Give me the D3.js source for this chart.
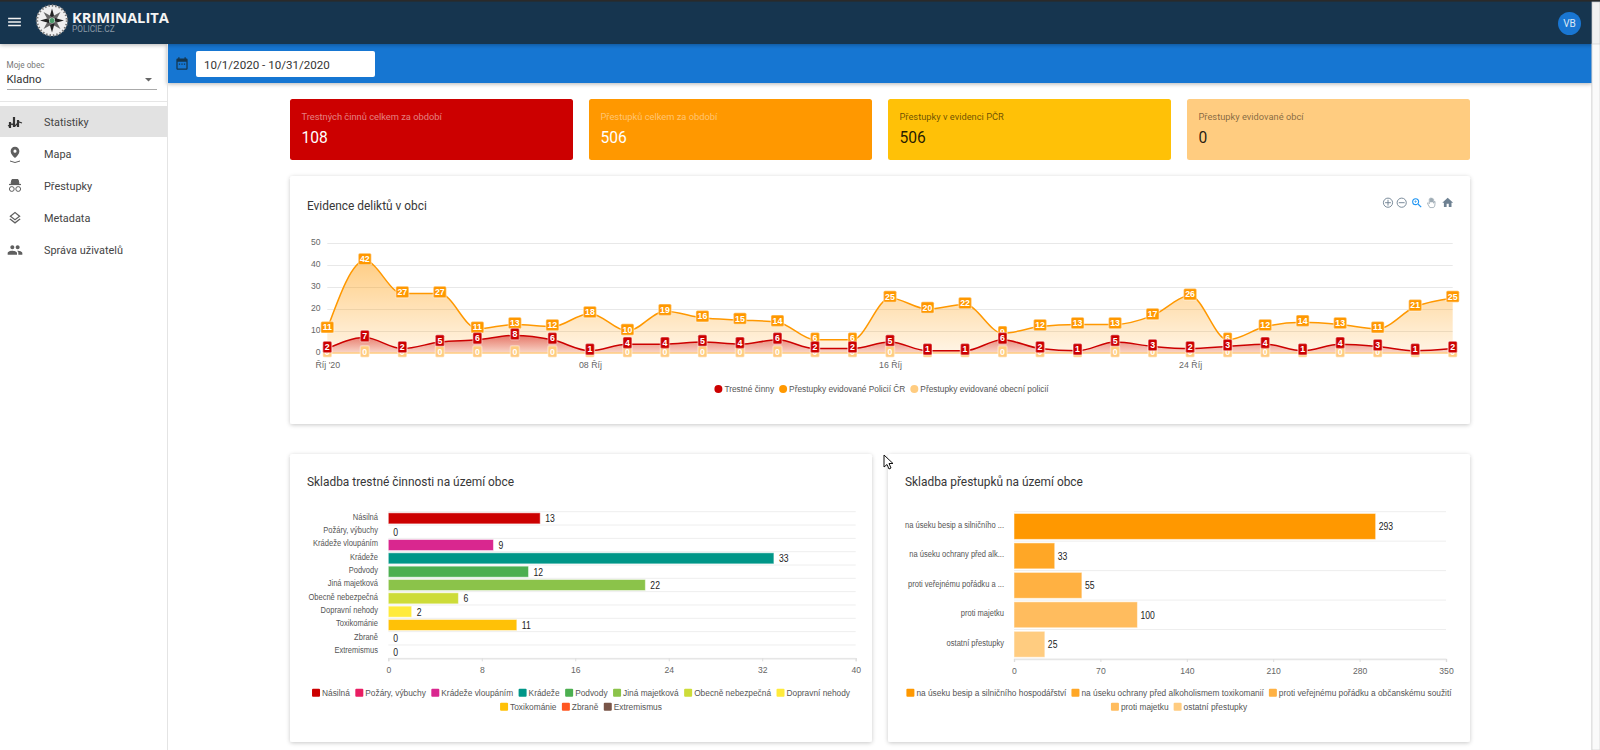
<!DOCTYPE html>
<html lang="cs"><head><meta charset="utf-8">
<script src="https://cdn.jsdelivr.net/npm/d3@7/dist/d3.min.js"></script>
<style>
html,body{margin:0;padding:0;width:1600px;height:750px;overflow:hidden;background:#fff;font-family:Roboto,sans-serif}
svg{position:absolute;left:0;top:0}
</style></head><body><svg id="page" width="1600" height="750"></svg>
<script>
// ---------- data ----------
const days = d3.range(1, 32);
const crimes = [2,7,2,5,6,8,6,1,4,4,5,4,6,2,2,5,1,1,6,2,1,5,3,2,3,4,1,4,3,1,2];
const offencesPolice = [11,42,27,27,11,13,12,18,10,19,16,15,14,6,6,25,20,22,9,12,13,13,17,26,6,12,14,13,11,21,25];
const offencesCity = [0,0,0,0,0,0,0,0,0,0,0,0,0,0,0,0,0,0,0,0,0,0,0,0,0,0,0,0,0,0,0];
const yTicks = [0,10,20,30,40,50];
const xTickDays = [1,8,16,24];
const xTickLabels = ["Říj '20","08 Říj","16 Říj","24 Říj"];
const lineNames = ["Trestné činny","Přestupky evidované Policií ČR","Přestupky evidované obecní policií"];
const lineColors = ["#cc0000","#ff9800","#ffcc80"];

const crimeCats = ["Násilná","Požáry, výbuchy","Krádeže vloupáním","Krádeže","Podvody","Jiná majetková","Obecně nebezpečná","Dopravní nehody","Toxikománie","Zbraně","Extremismus"];
const crimeVals = [13,0,9,33,12,22,6,2,11,0,0];
const crimeColors = ["#cc0000","#e91e63","#d9278f","#009688","#4caf50","#8bc34a","#cddc39","#ffeb3b","#ffc107","#ff5722","#795548"];
const crimeTicks = [0,8,16,24,32,40];

const offCats = ["na úseku besip a silničního hospodářství","na úseku ochrany před alkoholismem toxikomanií","proti veřejnému pořádku a občanskému soužití","proti majetku","ostatní přestupky"];
const offShort = ["na úseku besip a silničního ...","na úseku ochrany před alk...","proti veřejnému pořádku a ...","proti majetku","ostatní přestupky"];
const offVals = [293,33,55,100,25];
const offColors = ["#ff9800","#ffa726","#ffb142","#ffbc5e","#ffcc80"];
const offTicks = [0,70,140,210,280,350];

const kpiLabels = ["Trestných činnů celkem za období","Přestupků celkem za období","Přestupky v evidenci PČR","Přestupky evidované obcí"];
const kpiValues = ["108","506","506","0"];
const kpiColors = ["#cc0000","#ff9800","#ffc107","#ffcc80"];
const kpiLabelInk = ["rgba(255,255,255,.5)","rgba(255,255,255,.45)","rgba(0,0,0,.6)","rgba(0,0,0,.5)"];
const kpiValueInk = ["#fff","#fff","rgba(0,0,0,.87)","rgba(0,0,0,.87)"];
const navItems = ["Statistiky","Mapa","Přestupky","Metadata","Správa uživatelů"];

// ---------- helpers ----------
const svg = d3.select("#page");
const ROB = "Roboto,sans-serif", ARI = "'Liberation Sans',Helvetica,Arial,sans-serif";
const defs = svg.append("defs");
const shadow = (id, dy, blur, op) => {
  const f = defs.append("filter").attr("id", id).attr("x","-5%").attr("y","-20%").attr("width","110%").attr("height","140%");
  f.append("feDropShadow").attr("dx",0).attr("dy",dy).attr("stdDeviation",blur).attr("flood-color","#000").attr("flood-opacity",op);
};
shadow("cardS",1,2.2,.22); shadow("barS",1,2,.3);
const txt = (p,x,y,s,size,fill,o={}) => p.append("text").attr("x",x).attr("y",y).attr("dy",".35em")
  .attr("font-family",o.ff||ROB).attr("font-size",size).attr("fill",fill).attr("font-weight",o.w||400)
  .attr("text-anchor",o.a||"start").text(s);
const icon = (p,d,x,y,size,fill,extra) => {
  const g = p.append("g").attr("transform",`translate(${x-size/2},${y-size/2}) scale(${size/24})`);
  const e = g.append("path").attr("d",d).attr("fill",fill);
  if(extra) extra(e); return g;
};
// narrow text horizontally to the reference's tighter set width
const squeeze = (sel,k) => sel.each(function(){
  const n=this.getComputedTextLength();
  d3.select(this).attr("textLength",n*k).attr("lengthAdjust","spacingAndGlyphs");
});

// ---------- shell ----------
svg.append("rect").attr("x",167).attr("y",44).attr("width",1425).attr("height",39).attr("fill","#1976d2").attr("filter","url(#barS)");
svg.append("rect").attr("x",0).attr("y",0).attr("width",1600).attr("height",44).attr("fill","#14364f").attr("filter","url(#barS)");
svg.append("rect").attr("x",0).attr("y",0).attr("width",1600).attr("height",1.6).attr("fill","#2a2a2a");
svg.append("rect").attr("x",1592).attr("y",2).attr("width",8).attr("height",748).attr("fill","#f1f1f1").attr("stroke","#c8c8c8").attr("stroke-width",.7);
svg.append("rect").attr("x",1592).attr("y",44).attr("width",8).attr("height",706).attr("fill","#fafafa").attr("stroke","#d0d0d0").attr("stroke-width",.7);
svg.append("line").attr("x1",167.5).attr("x2",167.5).attr("y1",44).attr("y2",750).attr("stroke","#e4e4e4");

icon(svg,"M3 18h18v-2H3v2zm0-5h18v-2H3v2zm0-7v2h18V6H3z",14.5,22,17,"#f2f2f2");
// logo
const logo = svg.append("g").attr("transform","translate(52,20.5)");
logo.append("circle").attr("r",15.5).attr("fill","#efefef");
logo.append("circle").attr("r",15).attr("fill","none").attr("stroke","#777").attr("stroke-width",2.4).attr("stroke-dasharray","1.5 2");
d3.range(8).forEach(i=>{
  logo.append("path").attr("d","M0 -12 L2.6 -3 L-2.6 -3 Z").attr("fill",i%2?"#666":"#222").attr("transform",`rotate(${i*45})`);
});
logo.append("circle").attr("r",2.6).attr("fill","#4c9a6a");
txt(svg,72,17.5,"KRIMINALITA",14.7,"#f4f4f4",{w:700,ff:"'Open Sans',Roboto,sans-serif"});
txt(svg,72,29.5,"POLICIE.CZ",8.3,"#8b9aa6");
svg.append("circle").attr("cx",1569.5).attr("cy",23.5).attr("r",11.5).attr("fill","#1976d2");
txt(svg,1569.5,23.5,"VB",10,"#dbe9f6",{a:"middle"});

// date bar
icon(svg,"M19 4h-1V2h-2v2H8V2H6v2H5c-1.1 0-2 .9-2 2v14c0 1.1.9 2 2 2h14c1.1 0 2-.9 2-2V6c0-1.1-.9-2-2-2zm0 16H5V9h14v11zM7 12h2v2H7zm4 0h2v2h-2zm4 0h2v2h-2z",182,63.5,15,"#14364f");
svg.append("rect").attr("x",196).attr("y",51).attr("width",179).attr("height",26).attr("rx",2).attr("fill","#fff");
txt(svg,204,64.5,"10/1/2020 - 10/31/2020",11.6,"#333");

// sidebar
txt(svg,6.5,65.5,"Moje obec",8.2,"#777");
txt(svg,6.5,79,"Kladno",11.3,"#333");
svg.append("path").attr("d","M145 78 h7 l-3.5 3.5 z").attr("fill","#666");
svg.append("line").attr("x1",7).attr("x2",157).attr("y1",89.5).attr("y2",89.5).attr("stroke","#aaa");
svg.append("line").attr("x1",0).attr("x2",167).attr("y1",101.5).attr("y2",101.5).attr("stroke","#e6e6e6");
svg.append("rect").attr("x",0).attr("y",106).attr("width",167).attr("height",31).attr("fill","#e2e2e2");
navItems.forEach((s,i)=>txt(svg,44,122+i*32,s,10.9,"#444"));
const ic="#5f5f5f";
// Statistiky icon
const st=svg.append("g").attr("transform","translate(15,122)");
st.append("path").attr("d","M-5 6 L-5 0 M-1 5 L-1 -5 M3 5 L3 -2").attr("stroke","#333").attr("stroke-width",2.2).attr("fill","none");
st.append("path").attr("d","M-7 4 L-3 2 L0 4 L4 0 L7 1").attr("stroke","#333").attr("stroke-width",1.3).attr("fill","none");
icon(svg,"M12 2C8.13 2 5 5.13 5 9c0 4 4 8.5 7 11 3-2.500 7-7 7-11 0-3.870-3.130-7-7-7zm0 9.500a2.500 2.500 0 010-5 2.500 2.500 0 010 5z",15,153,15,ic);
svg.append("path").attr("d","M10 161 q5 3 10 0").attr("fill","none").attr("stroke",ic).attr("stroke-width",1);
// detective
const de=svg.append("g").attr("transform","translate(15,185.500)").attr("stroke",ic).attr("fill","none");
de.append("path").attr("d","M-4 -2 L-3 -6 L3 -6 L4 -2 Z").attr("fill",ic);
de.append("line").attr("x1",-6).attr("x2",6).attr("y1",-1).attr("y2",-1).attr("stroke-width",1.2);
de.append("circle").attr("cx",-3.2).attr("cy",3.500).attr("r",2.400);
de.append("circle").attr("cx",3.200).attr("cy",3.500).attr("r",2.400);
icon(svg,"M11.99 18.54l-7.37-5.73L3 14.07l9 7 9-7-1.630-1.270-7.380 5.740zM12 16l7.360-5.730L21 9l-9-7-9 7 1.630 1.270L12 16zm0-11.460L17.740 9 12 13.460 6.260 9 12 4.540z",15,218,15,ic);
icon(svg,"M16 11c1.660 0 2.990-1.340 2.990-3S17.660 5 16 5c-1.660 0-3 1.340-3 3s1.340 3 3 3zm-8 0c1.660 0 2.990-1.340 2.990-3S9.660 5 8 5C6.340 5 5 6.340 5 8s1.340 3 3 3zm0 2c-2.330 0-7 1.170-7 3.500V19h14v-2.500c0-2.330-4.670-3.500-7-3.500zm8 0c-.29 0-.62.02-.97.05 1.160.840 1.970 1.970 1.970 3.450V19h6v-2.500c0-2.330-4.670-3.500-7-3.500z",15,250,16,ic);

// ---------- KPI cards ----------
const kpiX = d3.scaleBand().domain(d3.range(4)).range([290,1470]).paddingInner(16/299);
const kpi = svg.selectAll("g.kpi").data(kpiLabels).join("g").attr("class","kpi")
  .attr("transform",(d,i)=>`translate(${kpiX(i)},99)`);
kpi.append("rect").attr("width",kpiX.bandwidth()).attr("height",61).attr("rx",2.500).attr("fill",(d,i)=>kpiColors[i]);
kpi.append("text").attr("x",11.5).attr("y",17.500).attr("dy",".35em").attr("font-size",9.300).attr("fill",(d,i)=>kpiLabelInk[i]).text(d=>d);
kpi.append("text").attr("x",11.5).attr("y",39).attr("dy",".35em").attr("font-size",15.600).attr("fill",(d,i)=>kpiValueInk[i]).text((d,i)=>kpiValues[i]);

// ---------- cards ----------
const card=(x,y,w,h,title)=>{
  svg.append("rect").attr("x",x).attr("y",y).attr("width",w).attr("height",h).attr("rx",2.500).attr("fill","#fff").attr("filter","url(#cardS)");
  txt(svg,x+17,y+(title.y||29.500),title.t,11.9,"#373737");
};
card(290,176,1180,248,{t:"Evidence deliktů v obci"});
card(290,454,582,288,{t:"Skladba trestné činnosti na území obce",y:27.500});
card(888,454,582,288,{t:"Skladba přestupků na území obce",y:27.500});

// toolbar
const tb="#6e8192";
[["M12 5v14M5 12h14",1388],["M5 12h14",1401.700]].forEach(([d,x])=>{
  const g=svg.append("g").attr("transform",`translate(${x-5},${202.700-5}) scale(${10/24})`).attr("fill","none").attr("stroke",tb).attr("stroke-width",2.200);
  g.append("circle").attr("cx",12).attr("cy",12).attr("r",11);g.append("path").attr("d",d);
});
icon(svg,"M15.500 14h-.79l-.28-.27A6.471 6.471 0 0016 9.500 6.500 6.500 0 109.500 16c1.610 0 3.090-.59 4.230-1.570l.27.28v.79l5 4.990L20.490 19l-4.990-5zm-6 0C7.010 14 5 11.990 5 9.500S7.010 5 9.500 5 14 7.010 14 9.500 11.990 14 9.500 14z M9 7h1v2h2v1h-2v2H9v-2H7V9h2z",1417,203,13,"#2196f3");
icon(svg,"M8 21 L4 14 Q3 12 5 12 L7 14 V5 Q8 4 9 5 V11 V3.500 Q10 2.500 11 3.500 V11 V4 Q12 3 13 4 V11 V5.500 Q14 4.500 15 5.500 V13 Q16 9 17.500 9.500 Q18 12 17 18 L15 21 Z",1432,202.700,13,"#fff",e=>e.attr("stroke","#9aa7b2").attr("stroke-width",1.500));
icon(svg,"M10 20v-6h4v6h5v-8h3L12 3 2 12h3v8z",1447.700,202.700,13,tb);

// ---------- line / area chart ----------
const X0=327.3,X1=1452.7,Y0=353,Y50=243;
const x = d3.scalePoint().domain(days).range([X0,X1]);
const y = d3.scaleLinear().domain([0,50]).range([Y0,Y50]);
const lc = svg.append("g").attr("font-family",ARI);

const grid = lc.append("g").attr("transform",`translate(${X0},0)`)
  .call(d3.axisLeft(y).tickValues(yTicks.slice(1)).tickSize(-(X1-X0)).tickFormat(""));
grid.select(".domain").remove();
grid.selectAll("line").attr("stroke","#e8e8e8");
const yAx = lc.append("g").attr("transform",`translate(320.500,-1)`)
  .call(d3.axisLeft(y).tickValues(yTicks).tickSize(0).tickPadding(0));
yAx.select(".domain").remove();
yAx.selectAll("text").attr("fill","#666").attr("font-size",8.600).attr("font-family",ARI);
const xAx = lc.append("g").attr("transform",`translate(0,${Y0+9})`)
  .call(d3.axisBottom(x).tickValues(xTickDays).tickSize(0).tickPadding(0).tickFormat((d,i)=>xTickLabels[i]));
xAx.select(".domain").remove();
xAx.selectAll("text").attr("fill","#666").attr("font-size",8.800).attr("font-family",ARI);

const series=[offencesCity,offencesPolice,crimes];
const seriesColors=[lineColors[2],lineColors[1],lineColors[0]];
const curve=d3.curveMonotoneX;
const grad=(id,c,a,b)=>{const g=defs.append("linearGradient").attr("id",id).attr("x1",0).attr("x2",0).attr("y1",0).attr("y2",1);
  g.append("stop").attr("offset",0).attr("stop-color",c).attr("stop-opacity",a);
  g.append("stop").attr("offset",1).attr("stop-color",c).attr("stop-opacity",b);};
grad("g1",lineColors[1],.48,.1); grad("g0",lineColors[0],.5,.12);
const area=d3.area().x((d,i)=>x(days[i])).y0(y(0)).y1(d=>y(d)).curve(curve);
const line=d3.line().x((d,i)=>x(days[i])).y(d=>y(d)).curve(curve);
lc.append("path").attr("d",area(offencesPolice)).attr("fill","url(#g1)");
lc.append("path").attr("d",area(crimes)).attr("fill","url(#g0)");
series.forEach((s,i)=>lc.append("path").attr("d",line(s)).attr("fill","none").attr("stroke",seriesColors[i]).attr("stroke-width",1.500));
series.forEach((s,k)=>{
  const g=lc.append("g");
  s.forEach((v,i)=>{
    const cx=x(days[i]),cy=y(v)-1.500;
    const w=String(v).length>1?13:9,h=11.500;
    g.append("rect").attr("x",cx-w/2).attr("y",cy-h/2).attr("width",w).attr("height",h).attr("rx",1.500)
      .attr("fill",seriesColors[k]).attr("stroke","#fff").attr("stroke-opacity",.35).attr("stroke-width",1.500);
    g.append("text").attr("x",cx).attr("y",cy).attr("dy",".35em").attr("text-anchor","middle")
      .attr("font-size",8.800).attr("font-weight",700).attr("fill","#fff").text(v);
  });
});

// flowing, centred legend
function legend(names,colors,cx,y0,breakAfter,shape,size,pitch,gap){
  const rows=[names.slice(0,breakAfter),names.slice(breakAfter)].filter(r=>r.length);
  let idx=0;
  rows.forEach((r,ri)=>{
    const g=svg.append("g").attr("font-family",ARI);
    let px=0;
    r.forEach(n=>{
      const c=colors[idx++];
      if(shape==="circle") g.append("circle").attr("cx",px+4).attr("cy",0).attr("r",4).attr("fill",c);
      else g.append("rect").attr("x",px).attr("y",-4).attr("width",8).attr("height",8).attr("rx",1).attr("fill",c);
      const t=g.append("text").attr("x",px+pitch).attr("y",0).attr("dy",".35em").attr("font-size",size).attr("fill","#555").text(n);
      const len=t.node().getComputedTextLength()*.98;
      t.attr("textLength",len).attr("lengthAdjust","spacingAndGlyphs");
      px+=pitch+len+gap;
    });
    g.attr("transform",`translate(${cx-(px-gap)/2},${y0+ri*14})`);
  });
}
legend(lineNames,lineColors,881.500,389,3,"circle",8.500,10,5);

// ---------- bar charts ----------
function bars(cats,labels,vals,colors,ticks,xr,yr,pad,labelX,valPad){
  const xs=d3.scaleLinear().domain([ticks[0],ticks[ticks.length-1]]).range(xr);
  const ys=d3.scaleBand().domain(cats).range(yr).paddingInner(pad).paddingOuter(pad/2);
  const full=d3.scaleBand().domain(cats).range(yr);
  const g=svg.append("g").attr("font-family",ARI);
  const rowLines=cats.map(c=>full(c)).concat(yr[1]);
  g.selectAll("line.row").data(rowLines).join("line").attr("class","row")
    .attr("x1",xr[0]).attr("x2",xr[1]).attr("y1",d=>d).attr("y2",d=>d).attr("stroke","#eeeeee");
  const ax=g.append("g").attr("transform",`translate(0,${yr[1]})`)
    .call(d3.axisBottom(xs).tickValues(ticks).tickSize(3).tickPadding(6));
  ax.select(".domain").attr("stroke","#e6e6e6").attr("stroke-width",1.500);
  ax.selectAll("line").attr("stroke","#dddddd");
  ax.selectAll("text").attr("fill","#666").attr("font-size",8.600).attr("font-family",ARI);
  g.selectAll("rect.bar").data(vals).join("rect").attr("class","bar")
    .attr("x",xs(0)).attr("y",(d,i)=>ys(cats[i])).attr("width",d=>xs(d)-xs(0)).attr("height",ys.bandwidth())
    .attr("fill",(d,i)=>colors[i]).attr("stroke",d=>d?"#fff":"none").attr("stroke-opacity",.5).attr("stroke-width",1);
  g.selectAll("text.val").data(vals).join("text").attr("class","val")
    .attr("x",d=>xs(d)+valPad).attr("y",(d,i)=>full(cats[i])+full.bandwidth()/2+.500).attr("dy",".35em")
    .attr("font-size",10).attr("fill","#222").text(d=>d).call(squeeze,.86);
  g.selectAll("text.cat").data(labels).join("text").attr("class","cat")
    .attr("x",labelX).attr("y",(d,i)=>full(cats[i])+full.bandwidth()/2-1.500).attr("dy",".35em").attr("text-anchor","end")
    .attr("font-size",8.400).attr("fill","#555").text(d=>d).call(squeeze,.9);
}
bars(crimeCats,crimeCats,crimeVals,crimeColors,crimeTicks,[388.300,855.700],[511.700,658.300],.17,378,5);
bars(offCats,offShort,offVals,offColors,offTicks,[1014,1446],[511.700,659],.12,1004,3);
legend(crimeCats,crimeColors,581,692.700,8,"rect",8.500,10,5.500);
legend(offCats,offColors,1179,692.700,3,"rect",8.500,10,5);

// mouse cursor
svg.append("path").attr("transform","translate(884,455)").attr("d","M0 0 L0 12 L3 9.500 L5 14 L7 13 L5 8.500 L9 8.500 Z").attr("fill","#fff").attr("stroke","#111").attr("stroke-width",1);
</script></body></html>
